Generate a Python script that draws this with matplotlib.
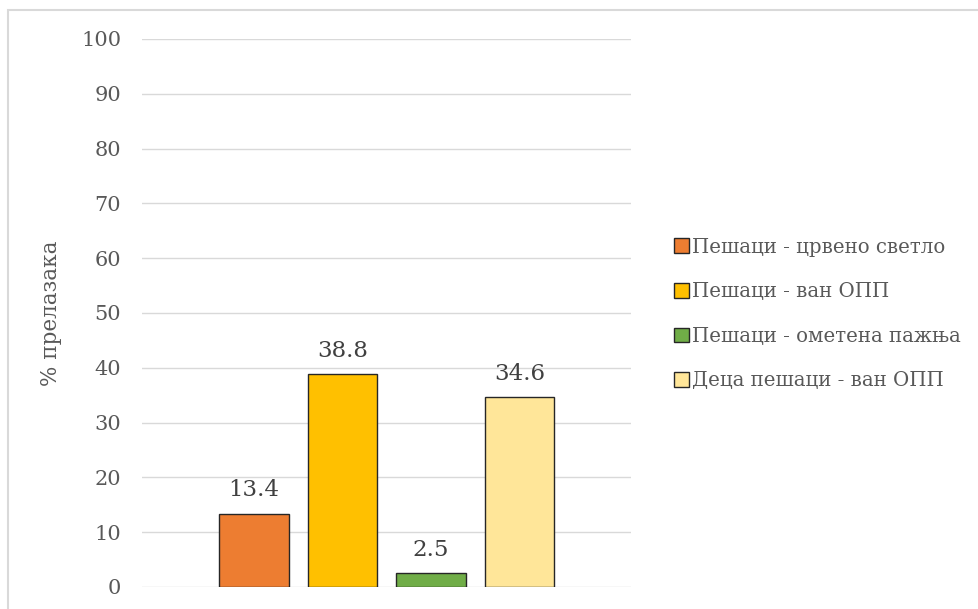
import matplotlib
matplotlib.use('Agg')
import matplotlib.pyplot as plt
from matplotlib.patches import Rectangle

# data
series = ['Пешаци - црвено светло', 'Пешаци - ван ОПП',
          'Пешаци - ометена пажња', 'Деца пешаци - ван ОПП']
values = [13.4, 38.8, 2.5, 34.6]
colors = ['#ED7D31', '#FFC000', '#70AD47', '#FFE699']
yticks = list(range(0, 101, 10))

plt.rcParams['font.family'] = ['DejaVu Serif']
grey = '#595959'

fig = plt.figure(figsize=(9.79, 6.09), dpi=100)
# chart-area border
fig.patches.append(Rectangle((8 / 979, -0.05), 1.2, 1 - 10 / 609 + 0.05,
                             transform=fig.transFigure, fill=False,
                             edgecolor='#D9D9D9', linewidth=1.5))

ax = fig.add_axes([142 / 979, 1 - 587 / 609, 489 / 979, 548 / 609])

x = list(range(len(values)))
ax.bar(x, values, width=0.79, color=colors, edgecolor='#262626',
       linewidth=1.0, zorder=3)
for xi, v in zip(x, values):
    ax.text(xi, v + 2.3, f'{v:.1f}', ha='center', va='bottom',
            fontsize=16.5, color='#404040')

ax.set_xlim(-1.265, 4.26)
ax.set_ylim(0, 100)
ax.set_yticks(yticks)
ax.set_xticks([])
ax.grid(axis='y', color='#D9D9D9', linewidth=1.0, zorder=0)
for s in ax.spines.values():
    s.set_visible(False)
ax.tick_params(axis='y', length=0, pad=15, labelsize=15, labelcolor=grey)
ax.set_ylabel('% прелазака', fontsize=15.5, color=grey)
ax.yaxis.set_label_coords(-0.164, 0.5)

handles = [Rectangle((0, 0), 1, 1, facecolor=c, edgecolor='#262626',
                     linewidth=1.0) for c in colors]
fig.legend(handles, series, loc='center left',
           bbox_to_anchor=(656 / 979, 1 - 314 / 609), frameon=False,
           fontsize=14.2, labelcolor=grey, handlelength=0.75, handleheight=0.75,
           handletextpad=0.2, labelspacing=1.3)

fig.savefig('out.png', dpi=100, facecolor='white')
